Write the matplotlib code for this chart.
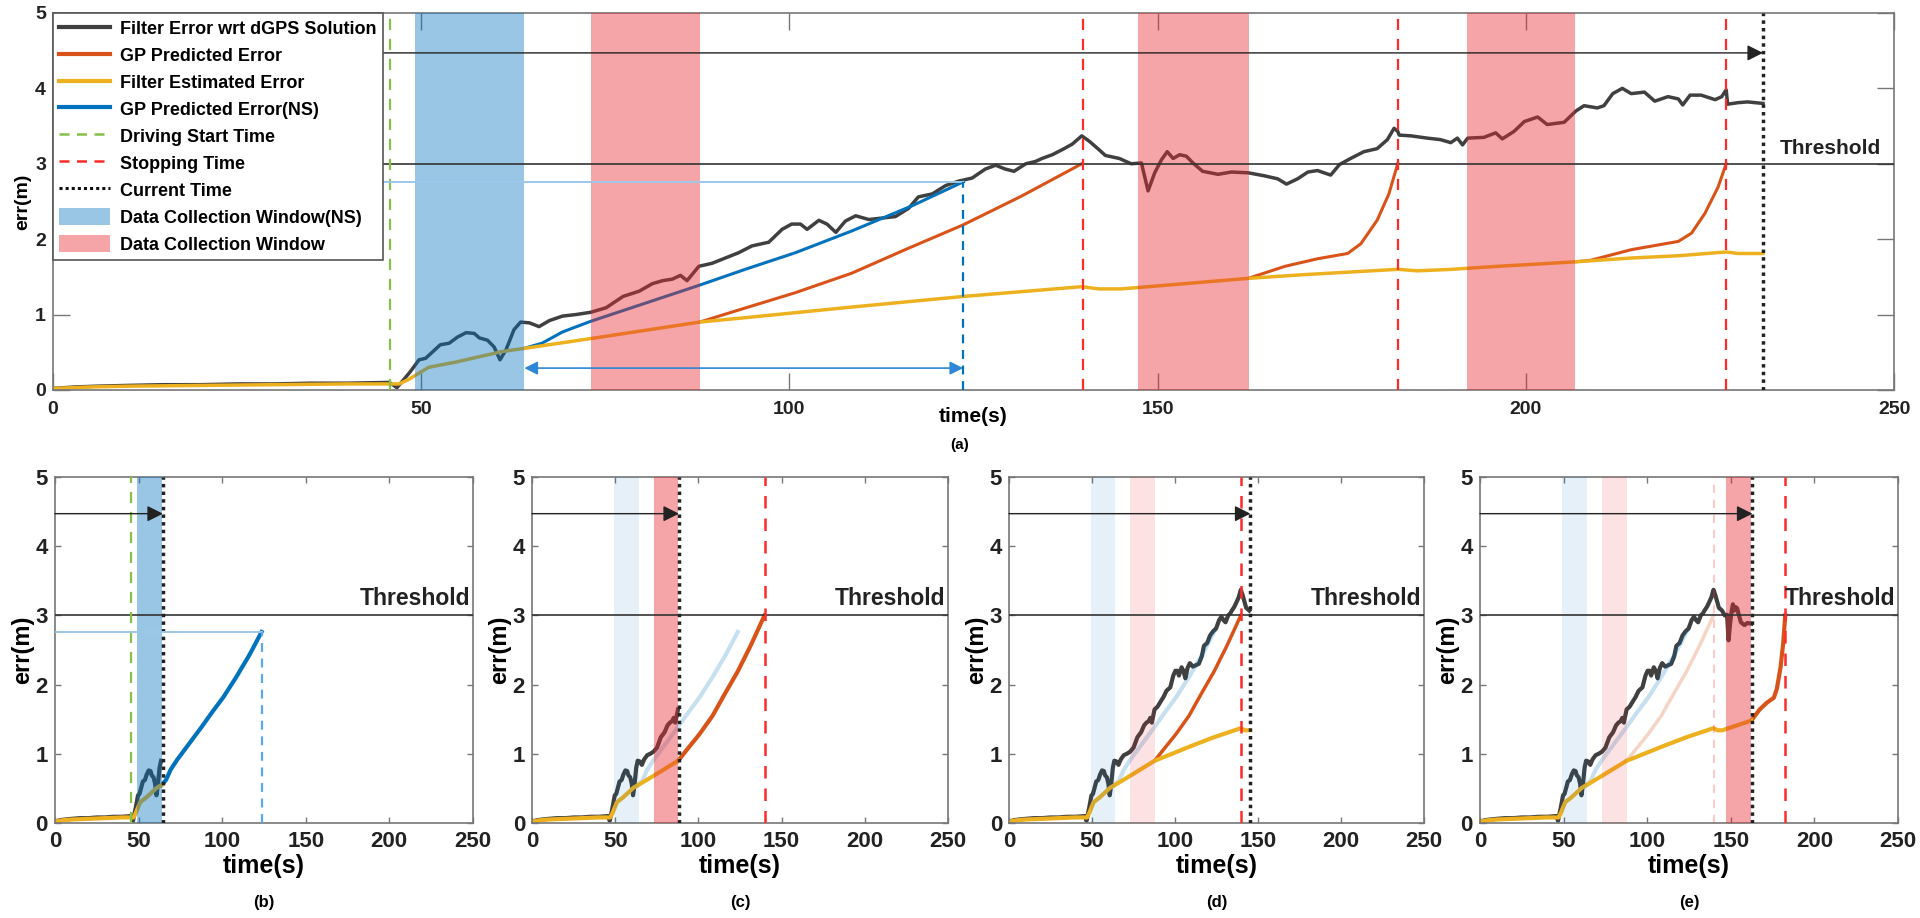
import matplotlib
matplotlib.use("Agg")
import matplotlib.pyplot as plt
import matplotlib.transforms as mtransforms
from matplotlib.lines import Line2D
from matplotlib.patches import Patch

plt.rcParams['font.family'] = ['Liberation Sans', 'DejaVu Sans']
plt.rcParams['font.weight'] = 'bold'
plt.rcParams['axes.labelweight'] = 'bold'

# ---- data ----
# filter error wrt dGPS solution
err_t = [0, 3, 6, 10, 15, 20, 25, 30, 35, 40, 45.7, 46.7, 48.5, 49.7, 50.6, 52.6, 53.8, 54.9,
         56.1, 57.2, 57.9, 59.0, 59.9, 60.7, 61.5, 62.6, 63.5, 64.7, 66.0, 67.4, 69.2, 71.0,
         73.0, 75.1, 77.4, 79.6, 81.4, 82.8, 84.1, 85.2, 86.1, 87.7, 89.5, 91.8, 93.1, 94.9,
         97.2, 99.0, 100.3, 101.5, 102.4, 104.0, 105.1, 106.3, 107.6, 109.0, 110.8, 112.6,
         114.4, 116.2, 117.5, 119.4, 121.2, 123.0, 124.8, 126.6, 128.0, 129.3, 130.5, 132.1,
         133.4, 134.3, 135.7, 137.1, 138.4, 139.7, 140.7, 142.0, 142.9, 144.8, 146.4, 147.8,
         148.7, 149.6, 150.5, 151.3, 152.1, 153.0, 153.9, 154.8, 156.1, 158.2, 160.0, 162.3,
         164.5, 166.3, 167.5, 169.0, 170.4, 171.7, 173.5, 174.7, 176.2, 178.0, 179.8, 181.2,
         182.1, 182.6, 182.8, 184.4, 186.6, 188.4, 189.8, 190.7, 191.4, 192.1, 194.3, 195.9,
         196.8, 198.4, 199.8, 201.6, 202.9, 205.2, 206.8, 207.9, 209.7, 210.6, 211.8, 213.1,
         214.3, 216.1, 217.5, 219.3, 220.7, 221.3, 222.3, 223.8, 225.7, 226.6, 227.2, 227.4,
         228.8, 230.1, 232.2]
err_v = [0.02, 0.04, 0.05, 0.06, 0.07, 0.07, 0.08, 0.08, 0.09, 0.09, 0.10, 0.03, 0.24, 0.40,
         0.42, 0.60, 0.62, 0.70, 0.76, 0.75, 0.69, 0.66, 0.57, 0.40, 0.53, 0.80, 0.90, 0.89,
         0.84, 0.92, 0.98, 1.00, 1.03, 1.09, 1.24, 1.31, 1.41, 1.45, 1.47, 1.52, 1.45, 1.64,
         1.68, 1.77, 1.82, 1.91, 1.96, 2.13, 2.20, 2.20, 2.13, 2.25, 2.20, 2.09, 2.24, 2.31,
         2.26, 2.28, 2.30, 2.41, 2.56, 2.60, 2.71, 2.77, 2.81, 2.93, 2.98, 2.93, 2.90, 3.00,
         3.03, 3.07, 3.12, 3.19, 3.26, 3.37, 3.30, 3.19, 3.11, 3.07, 3.00, 3.01, 2.64, 2.88,
         3.05, 3.16, 3.07, 3.12, 3.10, 3.01, 2.90, 2.86, 2.89, 2.88, 2.84, 2.80, 2.73, 2.80,
         2.89, 2.91, 2.85, 2.99, 3.07, 3.16, 3.20, 3.32, 3.47, 3.43, 3.38, 3.37, 3.34, 3.32,
         3.28, 3.34, 3.25, 3.34, 3.35, 3.41, 3.33, 3.43, 3.56, 3.62, 3.52, 3.55, 3.70, 3.77,
         3.74, 3.77, 3.93, 4.00, 3.93, 3.95, 3.83, 3.89, 3.86, 3.78, 3.91, 3.91, 3.85, 3.89,
         3.98, 3.79, 3.81, 3.82, 3.80]

# filter estimated error
est_t = [0, 5, 10, 20, 30, 40, 47.0, 48.3, 51.0, 54.7, 57.4, 61.0, 63.9, 73.6, 87.8, 93.1,
         108.5, 123.6, 139.7, 142.0, 145.0, 150.0, 162.3, 170.0, 182.6, 185.3, 190.0, 196.2,
         201.6, 206.8, 214.3, 220.7, 227.2, 228.8, 232.2]
est_v = [0.02, 0.04, 0.05, 0.06, 0.07, 0.08, 0.08, 0.14, 0.30, 0.37, 0.43, 0.51, 0.55, 0.69,
         0.90, 0.95, 1.10, 1.24, 1.37, 1.34, 1.34, 1.38, 1.48, 1.53, 1.60, 1.58, 1.60, 1.64,
         1.67, 1.70, 1.75, 1.78, 1.83, 1.81, 1.81]

# GP predicted error, one run per stop
gp1_t = [87.8, 93.1, 100.8, 108.5, 115.7, 123.6, 131.5, 139.7]
gp1_v = [0.90, 1.06, 1.29, 1.55, 1.86, 2.19, 2.57, 3.00]
gp2_t = [162.3, 167.3, 171.7, 175.8, 177.6, 179.8, 181.4, 182.6]
gp2_v = [1.48, 1.64, 1.74, 1.81, 1.94, 2.25, 2.60, 3.00]
gp3_t = [206.8, 208.8, 214.3, 220.7, 222.5, 224.3, 226.1, 227.2]
gp3_v = [1.70, 1.72, 1.86, 1.97, 2.08, 2.34, 2.69, 3.00]

# GP predicted error (NS)
ns_t = [63.9, 66.4, 69.2, 73.0, 80.4, 87.8, 94.0, 100.8, 108.5, 116.6, 123.6]
ns_v = [0.55, 0.62, 0.77, 0.91, 1.15, 1.39, 1.60, 1.82, 2.11, 2.44, 2.76]

drive_start = 45.8
ns_window = (49.2, 64.0)
windows = [(73.0, 87.8), (147.4, 162.4), (192.0, 206.7)]
stops = [139.8, 182.6, 227.2]
ns_stop = 123.6
threshold = 3.0
arrow_y = 4.47
ns_arrow_y = 0.29
current = {'a': 232.2, 'b': 64.6, 'c': 88.3, 'd': 145.5, 'e': 163.0}

# ---- colours ----
c_err = '#404040'
c_gp = '#D95319'
c_est = '#EDB120'
c_ns = '#0072BD'
c_nsband = '#0072BD'
c_band = '#E8262D'
c_green = '#86C04A'
c_red = '#FF2A2A'
c_light = '#9CC8EA'

fig = plt.figure(figsize=(19.2, 9.18), dpi=100)
ax_a = fig.add_axes([0.0276, 0.5752, 0.9589, 0.4107])
ax_b = fig.add_axes([0.0286, 0.1035, 0.2177, 0.3769])
ax_c = fig.add_axes([0.2771, 0.1035, 0.2167, 0.3769])
ax_d = fig.add_axes([0.5255, 0.1035, 0.2161, 0.3769])
ax_e = fig.add_axes([0.7708, 0.1035, 0.2177, 0.3769])


def upto(t, v, tmax):
    keep = [i for i in range(len(t)) if t[i] <= tmax]
    return [t[i] for i in keep], [v[i] for i in keep]


def style(ax, big):
    ax.set_xlim(0, 250)
    ax.set_ylim(0, 5)
    ax.set_xticks(range(0, 251, 50))
    ax.set_yticks(range(0, 6))
    ax.tick_params(direction='in', top=True, right=True, length=12 if big else 4, width=1,
                   color='#777777', labelcolor='#222222', labelsize=14 if big else 16)
    ax.tick_params(axis='x', pad=8 if big else 6)
    ax.tick_params(axis='y', pad=5)
    for s in ax.spines.values():
        s.set_color('#777777')
        s.set_linewidth(1.2)
    ax.set_ylabel('err(m)', fontsize=14 if big else 17, labelpad=3 if big else 1)


def common(ax, cur, big=False):
    lw = 2.5 if big else 3
    t, v = upto(err_t, err_v, cur)
    ax.plot(t, v, color=c_err, lw=lw, zorder=2)
    t, v = upto(est_t, est_v, cur)
    ax.plot(t, v, color=c_est, lw=lw, zorder=2.2)
    ax.axhline(threshold, color='#333333', lw=1.2, zorder=4)
    trans = mtransforms.blended_transform_factory(ax.transAxes, ax.transData)
    ax.text(0.993, threshold + 0.08, 'Threshold', transform=trans, ha='right', va='bottom',
            fontsize=15 if big else 16.5, color='#222222', zorder=5)
    ax.annotate('', xy=(cur, arrow_y), xytext=(0, arrow_y),
                arrowprops=dict(arrowstyle='-|>', color='#222222', lw=1.0,
                                mutation_scale=24, shrinkA=0, shrinkB=0), zorder=5)
    ax.axvline(cur, color='#222222', lw=2.5, ls=(0, (1, 1.2)), zorder=4)


# ---- (a) full run ----
ax = ax_a
common(ax, current['a'], big=True)
ax.plot(gp1_t, gp1_v, color=c_gp, lw=2.2, zorder=2.1)
ax.plot(gp2_t, gp2_v, color=c_gp, lw=2.2, zorder=2.1)
ax.plot(gp3_t, gp3_v, color=c_gp, lw=2.2, zorder=2.1)
ax.plot(ns_t, ns_v, color=c_ns, lw=2.2, zorder=2.1)
ax.axvspan(*ns_window, color=c_nsband, alpha=0.4, lw=0, zorder=3)
for w in windows:
    ax.axvspan(*w, color=c_band, alpha=0.42, lw=0, zorder=3)
ax.axvline(drive_start, color=c_green, lw=1.6, ls=(0, (5, 4)), zorder=4)
for s in stops:
    ax.axvline(s, color=c_red, lw=1.6, ls=(0, (5, 4)), zorder=4)
ax.plot([0, ns_stop], [ns_v[-1], ns_v[-1]], color=c_light, lw=1.4, zorder=4)
ax.plot([ns_stop, ns_stop], [0, ns_v[-1]], color=c_ns, lw=1.6, ls=(0, (4, 3)), zorder=4)
ax.annotate('', xy=(ns_stop, ns_arrow_y), xytext=(ns_window[1], ns_arrow_y),
            arrowprops=dict(arrowstyle='<|-|>', color='#2E86D6', lw=1.2,
                            mutation_scale=20, shrinkA=0, shrinkB=0), zorder=5)
style(ax, True)
ax.set_xlabel('time(s)', fontsize=15)
ax.xaxis.set_label_coords(0.5, -0.045)

handles = [
    Line2D([], [], color=c_err, lw=3),
    Line2D([], [], color=c_gp, lw=3),
    Line2D([], [], color=c_est, lw=3),
    Line2D([], [], color=c_ns, lw=3),
    Line2D([], [], color=c_green, lw=1.8, ls=(0, (4, 3))),
    Line2D([], [], color=c_red, lw=1.8, ls=(0, (4, 3))),
    Line2D([], [], color='#111111', lw=2.2, ls=(0, (1, 1))),
    Patch(facecolor=c_nsband, alpha=0.4, lw=0),
    Patch(facecolor=c_band, alpha=0.42, lw=0),
]
labels = ['Filter Error wrt dGPS Solution', 'GP Predicted Error', 'Filter Estimated Error',
          'GP Predicted Error(NS)', 'Driving Start Time', 'Stopping Time', 'Current Time',
          'Data Collection Window(NS)', 'Data Collection Window']
leg = ax.legend(handles, labels, loc='upper left', bbox_to_anchor=(0, 1), borderaxespad=0,
                fontsize=13, fancybox=False, framealpha=1, edgecolor='#555555',
                handlelength=2.8, handleheight=1.1, labelspacing=0.45, borderpad=0.35,
                handletextpad=0.55)
leg.set_zorder(10)
leg.get_frame().set_linewidth(1.2)

# ---- (b) end of NS data collection ----
ax = ax_b
common(ax, current['b'])
ax.plot(ns_t, ns_v, color=c_ns, lw=3, zorder=2.1)
ax.axvspan(*ns_window, color=c_nsband, alpha=0.4, lw=0, zorder=3)
ax.axvline(drive_start, color=c_green, lw=1.6, ls=(0, (5, 4)), zorder=4)
ax.plot([0, ns_stop], [ns_v[-1], ns_v[-1]], color=c_light, lw=1.4, zorder=4)
ax.plot([ns_stop, ns_stop], [0, ns_v[-1]], color='#5AA9E6', lw=1.6, ls=(0, (4, 3)), zorder=4)
style(ax, False)
ax.set_xlabel('time(s)', fontsize=18, labelpad=1)

# ---- (c) end of first window ----
ax = ax_c
common(ax, current['c'])
ax.plot(ns_t, ns_v, color=c_ns, lw=3, alpha=0.22, zorder=2.1)
ax.plot(gp1_t, gp1_v, color=c_gp, lw=3, zorder=2.1)
ax.axvspan(*ns_window, color=c_nsband, alpha=0.1, lw=0, zorder=3)
ax.axvspan(*windows[0], color=c_band, alpha=0.42, lw=0, zorder=3)
ax.axvline(stops[0], color=c_red, lw=1.8, ls=(0, (5, 4)), zorder=4)
style(ax, False)
ax.set_xlabel('time(s)', fontsize=18, labelpad=1)

# ---- (d) after first stop ----
ax = ax_d
common(ax, current['d'])
ax.plot(ns_t, ns_v, color=c_ns, lw=3, alpha=0.22, zorder=2.1)
ax.plot(gp1_t, gp1_v, color=c_gp, lw=2.5, zorder=2.1)
ax.axvspan(*ns_window, color=c_nsband, alpha=0.1, lw=0, zorder=3)
ax.axvspan(*windows[0], color=c_band, alpha=0.13, lw=0, zorder=3)
ax.axvline(stops[0], color=c_red, lw=1.8, ls=(0, (5, 4)), zorder=4)
style(ax, False)
ax.set_xlabel('time(s)', fontsize=18, labelpad=1)

# ---- (e) end of second window ----
ax = ax_e
common(ax, current['e'])
ax.plot(ns_t, ns_v, color=c_ns, lw=3, alpha=0.22, zorder=2.1)
ax.plot(gp1_t, gp1_v, color=c_gp, lw=2.5, alpha=0.25, zorder=2.1)
ax.plot(gp2_t, gp2_v, color=c_gp, lw=3, zorder=2.1)
ax.axvspan(*ns_window, color=c_nsband, alpha=0.1, lw=0, zorder=3)
ax.axvspan(*windows[0], color=c_band, alpha=0.13, lw=0, zorder=3)
ax.axvspan(*windows[1], color=c_band, alpha=0.42, lw=0, zorder=3)
ax.axvline(stops[0], color=c_red, lw=1.2, alpha=0.3, ls=(0, (5, 4)), zorder=4)
ax.axvline(stops[1], color=c_red, lw=1.8, ls=(0, (5, 4)), zorder=4)
style(ax, False)
ax.set_xlabel('time(s)', fontsize=18, labelpad=1)

fig.text(0.5, 1 - 445 / 918, '(a)', ha='center', va='center', fontsize=11)
for a, name in [(ax_b, '(b)'), (ax_c, '(c)'), (ax_d, '(d)'), (ax_e, '(e)')]:
    pos = a.get_position()
    fig.text(pos.x0 + pos.width / 2, 1 - 903 / 918, name, ha='center', va='center', fontsize=12)

fig.savefig('out.png', dpi=100)
